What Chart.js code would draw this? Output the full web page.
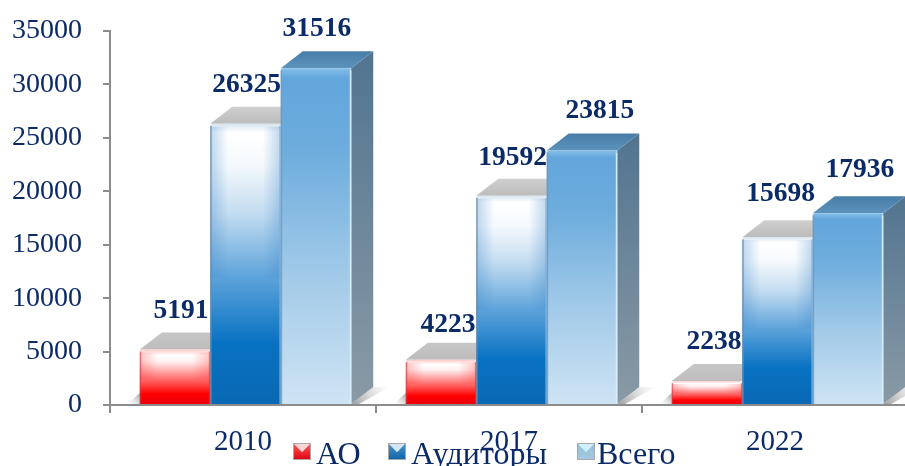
<!DOCTYPE html>
<html>
<head>
<meta charset="utf-8">
<style>
  html, body { margin: 0; padding: 0; background: #fff; overflow: hidden; }
  #wrap { width: 905px; height: 466px; overflow: hidden; }
  canvas { display: block; }
</style>
<script src="https://cdn.jsdelivr.net/npm/chart.js@4/dist/chart.umd.js"></script>
</head>
<body>
<div id="wrap"><canvas id="chart" width="908" height="466"></canvas></div>
<script>
const categories = ['2010', '2017', '2022'];
const aoValues = [5191, 4223, 2238];
const auditorValues = [26325, 19592, 15698];
const totalValues = [31516, 23815, 17936];
const seriesNames = ['АО', 'Аудиторы', 'Всего'];

const textColor = '#0b2a68';
const serif = '"Liberation Serif", serif';
const depthX = 22, depthY = 17, shiftX = 2.5;

// label nudges, the 3d look pushes some labels off the bar centre
const labelNudgeX = [[5, 6, 6], [0, 0, 2], [0, 17, 11]];
const labelNudgeY = [[1, 5, 1], [1, 2, -3], [1, 0, -3]];

// colour stops for the front of each bar
const frontStops = [
  [[0, '#ffc8c8'], [0.1, '#ffffff'], [0.22, '#fff0f0'], [0.5, '#ff7a7a'], [0.8, '#ff0000'], [1, '#e8000c']],
  [[0, '#d5e3ee'], [0.03, '#ffffff'], [0.14, '#f6fafd'], [0.32, '#c3dcf0'], [0.55, '#5ba2da'], [0.78, '#0872c2'], [1, '#0a68b4']],
  [[0, '#86bfe9'], [0.03, '#62a6dc'], [0.25, '#6eaddd'], [0.6, '#a0c9e8'], [1, '#cfe4f4']]
];
const sideStops = [
  ['#9a9a9a', '#9a9a9a'],
  ['#9a9a9a', '#9a9a9a'],
  ['#52748f', '#8a9aa6']
];
const topColors = [
  ['#c6c6c6', '#bdbdbd'],
  ['#cfcfcf', '#bcbcbc'],
  ['#477da6', '#5c93bc']
];
// glow at the sides of the first two series, strongest in the upper part
const edgeGlow = ['rgba(255,60,60,0.3)', 'rgba(70,140,205,0.35)', 'rgba(190,225,250,0)'];
const edgeLines = [
  ['rgba(210,60,70,0.6)', 'rgba(210,60,70,0.6)'],
  ['rgba(110,140,170,0.8)', 'rgba(120,180,230,0.8)'],
  ['rgba(120,150,175,0.8)', 'rgba(215,238,252,0.95)']
];
const swatchBody = [
  ['#ff5a5a', '#e00010'],
  ['#4a96cf', '#0f62a8'],
  ['#8cc0e0', '#a9c9de']
];
const swatchFlap = ['#ffd4d4', '#d2e6f4', '#d2effd'];

function frontFill(ctx) {
  const chart = ctx.chart;
  if (!chart.chartArea || ctx.raw === undefined) return '#888';
  const top = chart.scales.y.getPixelForValue(ctx.raw);
  const bottom = chart.scales.y.getPixelForValue(0);
  const g = chart.ctx.createLinearGradient(0, top, 0, bottom);
  frontStops[ctx.datasetIndex].forEach(s => g.addColorStop(s[0], s[1]));
  return g;
}

function makeDataset(label, values) {
  return {
    label: label,
    data: values,
    backgroundColor: frontFill,
    borderWidth: 0,
    borderRadius: { topLeft: 3, topRight: 3 },
    borderSkipped: 'bottom',
    categoryPercentage: 0.795,
    barPercentage: 1,
    clip: false
  };
}

function drawBevel(c, bar, i) {
  const left = bar.x - bar.width / 2;
  const right = bar.x + bar.width / 2;
  const h = bar.base - bar.y;
  const fadeEnd = bar.y + h * 0.55;

  // soft side glow
  [[left, left + 18], [right, right - 18]].forEach(p => {
    const g = c.createLinearGradient(p[0], 0, p[1], 0);
    g.addColorStop(0, edgeGlow[i]);
    g.addColorStop(1, edgeGlow[i].replace(/[\d.]+\)$/, '0)'));
    c.fillStyle = g;
    c.fillRect(Math.min(p[0], p[1]), bar.y + 3, 18, fadeEnd - bar.y - 3);
  });

  c.lineWidth = 1.5;
  c.strokeStyle = edgeLines[i][0];
  c.beginPath();
  c.moveTo(left + 0.7, bar.y + 2);
  c.lineTo(left + 0.7, bar.base);
  c.stroke();
  c.strokeStyle = edgeLines[i][1];
  c.beginPath();
  c.moveTo(right - 0.7, bar.y + 2);
  c.lineTo(right - 0.7, bar.base);
  c.stroke();
}

// floor shadow, sides and tops go under the bars
const depthPlugin = {
  id: 'depth',
  beforeDatasetsDraw(chart) {
    const c = chart.ctx;
    c.save();
    c.translate(shiftX, 0);
    chart.data.datasets.forEach((ds, i) => {
      chart.getDatasetMeta(i).data.forEach(bar => {
        const left = bar.x - bar.width / 2;
        const right = bar.x + bar.width / 2;
        const yTop = bar.y, yBase = bar.base;

        if (i === 2) {
          const sh = c.createLinearGradient(right, yBase, right + depthX + 18, yBase - depthY);
          sh.addColorStop(0, 'rgba(110,110,110,0.7)');
          sh.addColorStop(1, 'rgba(200,200,200,0)');
          c.fillStyle = sh;
          c.beginPath();
          c.moveTo(right, yBase);
          c.lineTo(right + depthX, yBase - depthY);
          c.lineTo(right + depthX + 16, yBase - depthY);
          c.lineTo(right + 8, yBase);
          c.closePath();
          c.fill();
        }
        if (i === 0) {
          const sh = c.createLinearGradient(left - 12, yBase, left, yBase - 12);
          sh.addColorStop(0, 'rgba(200,200,200,0)');
          sh.addColorStop(1, 'rgba(110,110,110,0.7)');
          c.fillStyle = sh;
          c.beginPath();
          c.moveTo(left - 12, yBase);
          c.lineTo(left, yBase - 11);
          c.lineTo(left, yBase);
          c.closePath();
          c.fill();
        }

        const side = c.createLinearGradient(0, yTop - depthY, 0, yBase);
        side.addColorStop(0, sideStops[i][0]);
        side.addColorStop(1, sideStops[i][1]);
        c.fillStyle = side;
        c.beginPath();
        c.moveTo(right, yTop);
        c.lineTo(right + depthX, yTop - depthY);
        c.lineTo(right + depthX, yBase - depthY);
        c.lineTo(right, yBase);
        c.closePath();
        c.fill();

        const topFace = c.createLinearGradient(0, yTop - depthY, 0, yTop);
        topFace.addColorStop(0, topColors[i][0]);
        topFace.addColorStop(1, topColors[i][1]);
        c.fillStyle = topFace;
        c.beginPath();
        c.moveTo(left, yTop);
        c.lineTo(left + depthX, yTop - depthY);
        c.lineTo(right + depthX, yTop - depthY);
        c.lineTo(right, yTop);
        c.closePath();
        c.fill();
      });
    });
    c.restore();
    c.save();
    c.translate(shiftX, 0);
  },
  afterDatasetsDraw(chart) {
    const c = chart.ctx;
    chart.data.datasets.forEach((ds, i) => {
      chart.getDatasetMeta(i).data.forEach(bar => drawBevel(c, bar, i));
    });
    c.restore();

    c.save();
    c.translate(shiftX, 0);
    c.font = 'bold 27.5px ' + serif;
    c.fillStyle = textColor;
    c.textAlign = 'center';
    c.textBaseline = 'middle';
    chart.data.datasets.forEach((ds, i) => {
      chart.getDatasetMeta(i).data.forEach((bar, j) => {
        c.fillText(String(ds.data[j]), bar.x + labelNudgeX[i][j] + 1, bar.y - 40 + labelNudgeY[i][j]);
      });
    });
    c.restore();

    // legend sits over the axis labels like in the original
    const swatchX = [293, 388, 577];
    const textX = [316, 411, 597];
    const sw = 18, sh = 17, sy = 443;
    c.save();
    c.font = '32px ' + serif;
    c.textAlign = 'left';
    c.textBaseline = 'alphabetic';
    seriesNames.forEach((name, i) => {
      const x = swatchX[i];
      const g = c.createLinearGradient(0, sy, 0, sy + sh);
      g.addColorStop(0, swatchBody[i][0]);
      g.addColorStop(1, swatchBody[i][1]);
      c.fillStyle = g;
      c.fillRect(x, sy, sw, sh);
      c.fillStyle = swatchFlap[i];
      c.beginPath();
      c.moveTo(x, sy);
      c.lineTo(x + sw / 2, sy + sh * 0.55);
      c.lineTo(x + sw, sy);
      c.closePath();
      c.fill();
      c.strokeStyle = '#a8a8a8';
      c.lineWidth = 1;
      c.strokeRect(x + 0.5, sy + 0.5, sw - 1, sh - 1);
      c.fillStyle = textColor;
      c.fillText(name, textX[i], 464);
    });
    c.restore();
  }
};

new Chart(document.getElementById('chart'), {
  type: 'bar',
  data: {
    labels: categories,
    datasets: [
      makeDataset(seriesNames[0], aoValues),
      makeDataset(seriesNames[1], auditorValues),
      makeDataset(seriesNames[2], totalValues)
    ]
  },
  options: {
    responsive: false,
    animation: false,
    layout: { padding: { top: 31, left: 0, right: 0, bottom: 0 } },
    plugins: {
      legend: { display: false },
      tooltip: { enabled: false }
    },
    scales: {
      x: {
        afterFit(scale) { scale.height = 61; },
        grid: { drawOnChartArea: false, tickLength: 8, color: '#8c8c8c', lineWidth: 2 },
        border: { color: '#8c8c8c', width: 2 },
        ticks: {
          color: textColor,
          font: { family: serif, size: 29 },
          padding: 12,
          maxRotation: 0
        }
      },
      y: {
        min: 0,
        max: 35000,
        afterFit(scale) {
          scale.width = 110;
          scale.paddingTop = 0;
          scale.paddingBottom = 0;
        },
        grid: { drawOnChartArea: false, tickLength: 7, color: '#8c8c8c', lineWidth: 2 },
        border: { color: '#8c8c8c', width: 2 },
        ticks: {
          stepSize: 5000,
          color: textColor,
          font: { family: serif, size: 28 },
          padding: 21,
          callback: v => String(v)
        }
      }
    }
  },
  plugins: [depthPlugin]
});
</script>
</body>
</html>
